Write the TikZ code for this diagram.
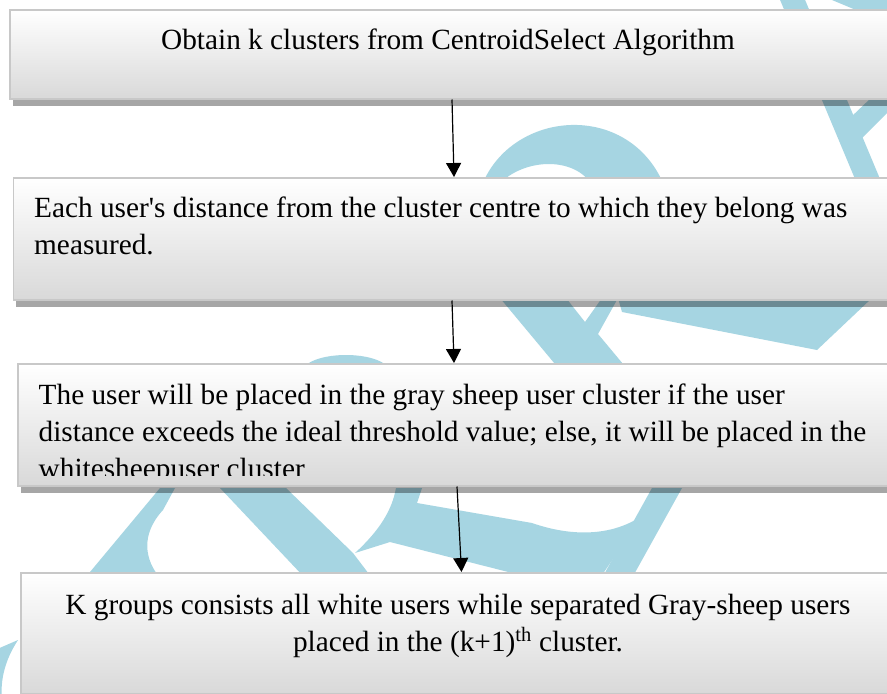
\documentclass[tikz,border=0pt]{standalone}
\usepackage{fontspec}
\setmainfont{Liberation Serif}
\usetikzlibrary{arrows.meta,shadows}
\definecolor{wm}{RGB}{166,213,226}
\definecolor{boxline}{RGB}{200,200,200}
\tikzset{
  flowbox/.style={draw=boxline, line width=1.5pt, top color=white, middle color=black!4, bottom color=black!15,
    anchor=north west, minimum width=900pt, inner sep=0pt,
    general shadow={fill=black, opacity=0.35, shadow xshift=3pt, shadow yshift=-7pt}},
  txt/.style={inner sep=0pt, font=\fontsize{29.3}{37}\selectfont},
  arr/.style={line width=1.2pt, -{Triangle[length=14pt,width=15pt]}}
}
\begin{document}
\begin{tikzpicture}[x=1pt,y=-1pt]
\useasboundingbox (0,0) rectangle (887,694);
\fill[white] (0,0) rectangle (887,694);
% watermark
\fill[wm] (778,-5) -- (803,-5) -- (960,370) -- (935,370) -- cycle;
\fill[wm] (892,78) -- (892,108) -- (862,138) -- (850,118) -- cycle;
\fill[wm] (820,-5) -- (892,-5) -- (892,25) -- cycle;
\fill[wm] (482,185) .. controls (512,110) and (628,100) .. (664,185) -- (592,185) .. controls (575,157) and (525,157) .. (498,185) -- cycle;
\fill[wm] (302,370) .. controls (312,350) and (380,350) .. (390,370) -- cycle;
\fill[wm] (500,298) -- (566,298) -- (585,322) -- (602,298) -- (618,298) -- (598,334) -- (628,370) -- (560,370) -- cycle;
\fill[wm] (618,298) -- (872,298) -- (817,350) -- (622,312) -- cycle;
\fill[wm] (160,488) -- (175,488) -- (163,510) .. controls (140,535) and (145,560) .. (160,578) -- (85,578) -- cycle;
\fill[wm] (220,488) -- (286,488) -- (353,553) -- (372,578) -- (305,578) -- cycle;
\fill[wm] (396,488) -- (422,488) -- (417,503) -- (532,523) .. controls (575,538) and (615,535) .. (643,515) -- (600,578) -- (532,578) -- (390,542) -- (355,553) .. controls (380,530) and (392,510) .. (396,488) -- cycle;
\fill[wm] (652,488) -- (682,488) -- (632,578) -- (602,578) -- cycle;
\fill[wm] (18,640) .. controls (5,660) and (0,680) .. (2,700) -- (-5,700) -- (-5,650) -- cycle;
% boxes
\node[flowbox, minimum height=89pt] (b1) at (9,9) {};
\node[flowbox, minimum height=122pt] (b2) at (12.5,177) {};
\node[flowbox, minimum height=122pt] (b3) at (17,363) {};
\node[flowbox, minimum height=121pt] (b4) at (20,572) {};
% texts
\node[txt, anchor=base] (t1) at (448,49) {Obtain k clusters from CentroidSelect Algorithm};
\node[txt, anchor=base west] (t2a) at (34,217) {Each user\textquotesingle s distance from the cluster centre to which they belong was};
\node[txt, anchor=base west] (t2b) at (34,254) {measured.};
\begin{scope}
\clip (0,363) rectangle (887,475);
\node[txt, anchor=base west] (t3a) at (38.5,404) {The user will be placed in the gray sheep user cluster if the user};
\node[txt, anchor=base west] (t3b) at (38.5,441) {distance exceeds the ideal threshold value; else, it will be placed in the};
\node[txt, anchor=base west] (t3c) at (38.5,478) {whitesheepuser cluster};
\end{scope}
\node[txt, anchor=base] (t4a) at (458,614) {K groups consists all white users while separated Gray-sheep users};
\node[txt, anchor=base] (t4b) at (458,651) {placed in the (k+1)\textsuperscript{th} cluster.};
% connectors
\draw[arr] ([xshift=443pt]b1.south west) -- ([xshift=441.5pt]b2.north west);
\draw[arr] ([xshift=439.5pt]b2.south west) -- ([xshift=437pt]b3.north west);
\draw[arr] ([xshift=440pt]b3.south west) -- ([xshift=441.5pt]b4.north west);
\end{tikzpicture}
\end{document}
